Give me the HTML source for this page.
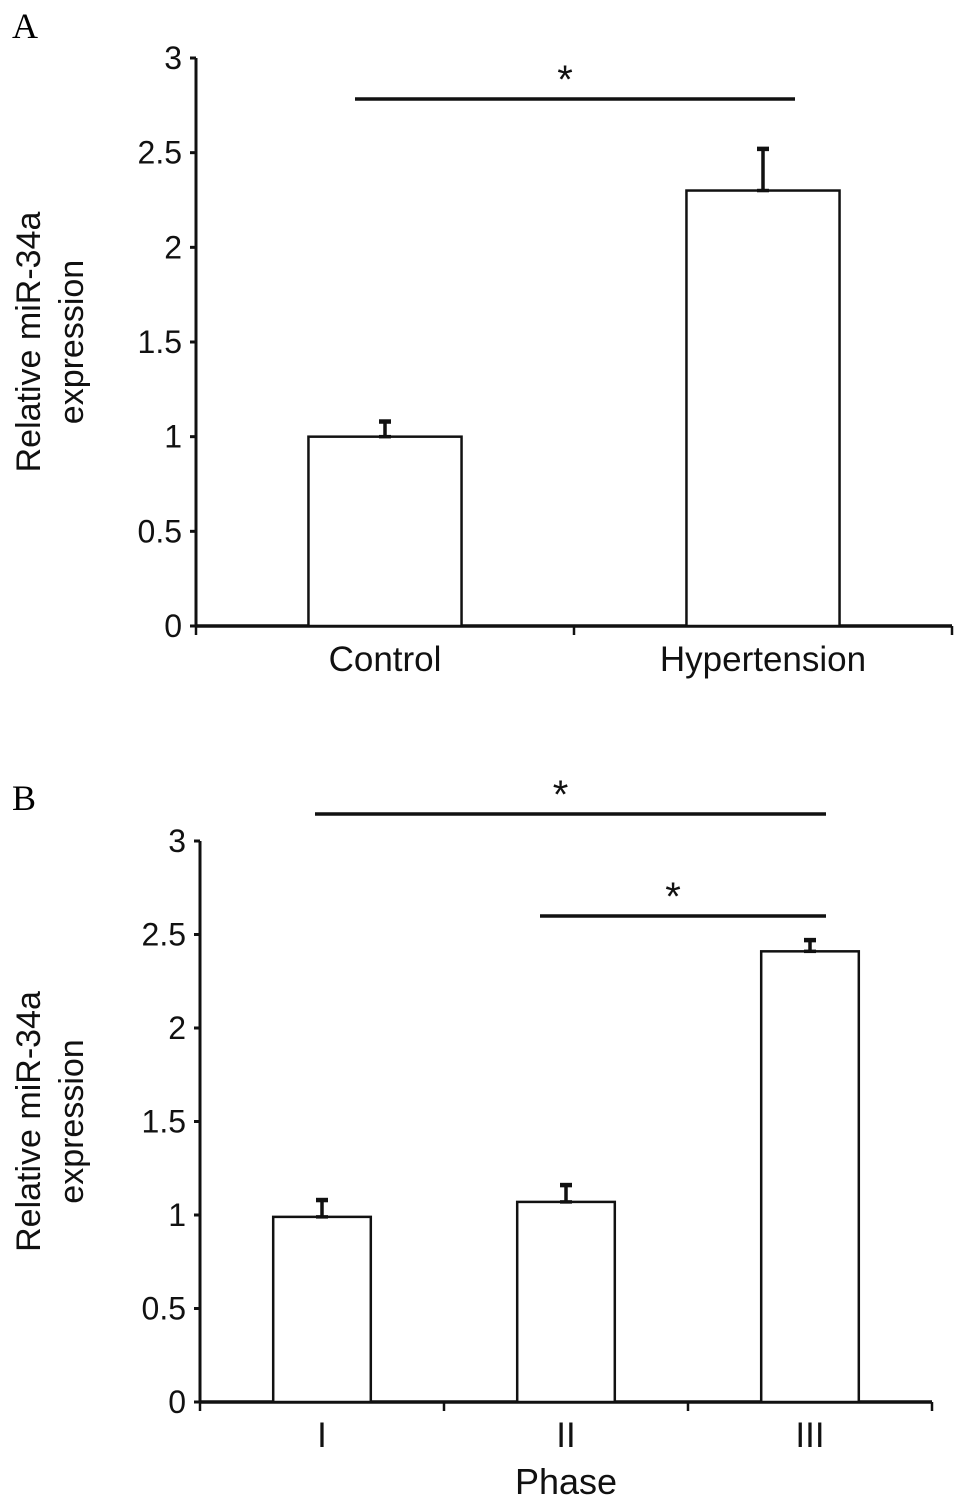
<!DOCTYPE html>
<html><head><meta charset="utf-8"><style>
html,body{margin:0;padding:0;background:#fff;}
svg{display:block;font-family:"Liberation Sans",Arial,sans-serif;}
</style></head><body>
<svg id="chart" width="969" height="1506" viewBox="0 0 969 1506">
<text x="12" y="38" font-family="Liberation Serif,serif" font-size="36">A</text>
<text x="12" y="810" font-family="Liberation Serif,serif" font-size="36">B</text>
<g id="pa"></g>
<g id="pb"></g>
</svg>
<script>
const catsA = ["Control","Hypertension"];
const valsA = [1.0, 2.3];
const errA = [0.08, 0.22];
const catsB = ["I","II","III"];
const valsB = [0.99, 1.07, 2.41];
const errB = [0.09, 0.09, 0.06];
const yTicks = [0, 0.5, 1, 1.5, 2, 2.5, 3];
const yTickLabels = ["0","0.5","1","1.5","2","2.5","3"];

const NS="http://www.w3.org/2000/svg";
function mk(p,t,a){const e=document.createElementNS(NS,t);for(const k in a)e.setAttribute(k,a[k]);p.appendChild(e);return e;}

function panel(g,cfg,cats,vals,errs,prefix){
  const y=v=>cfg.y0-(cfg.y0-cfg.y3)*v/3;
  const bw=(cfg.x1-cfg.x0)/cats.length;
  const xc=i=>cfg.x0+bw*(i+0.5);
  let ax=mk(g,'line',{x1:cfg.x0,y1:cfg.y3,x2:cfg.x0,y2:cfg.y0,stroke:'#111','stroke-width':3});
  
  
  yTicks.forEach((t,i)=>{
    const tk=mk(g,'line',{x1:cfg.x0-6,y1:y(t),x2:cfg.x0,y2:y(t),stroke:'#111','stroke-width':3});
    
    
    const tl=mk(g,'text',{x:cfg.x0-14,y:y(t)+11,'text-anchor':'end','font-size':32,fill:'#111'});
    tl.textContent=yTickLabels[i];
    
    
  });
  let xa=mk(g,'line',{x1:cfg.x0,y1:cfg.y0,x2:cfg.x1,y2:cfg.y0,stroke:'#111','stroke-width':3.5});
  
  
  for(let i=0;i<=cats.length;i++){
    const tk=mk(g,'line',{x1:cfg.x0+bw*i,y1:cfg.y0,x2:cfg.x0+bw*i,y2:cfg.y0+9,stroke:'#111','stroke-width':2.5});
    
    
  }
  cats.forEach((c,i)=>{
    const w=bw*cfg.frac;
    const r=mk(g,'rect',{x:xc(i)-w/2,y:y(vals[i]),width:w,height:cfg.y0-y(vals[i]),fill:'#fff',stroke:'#111','stroke-width':2.5});
    
    
    const eg=mk(g,'g',{stroke:'#111','stroke-width':3.5});
    
    
    mk(eg,'line',{x1:xc(i),y1:y(vals[i]),x2:xc(i),y2:y(vals[i]+errs[i])});
    mk(eg,'line',{x1:xc(i)-6,y1:y(vals[i]+errs[i]),x2:xc(i)+6,y2:y(vals[i]+errs[i]),'stroke-width':4.5});
    mk(eg,'line',{x1:xc(i)-6,y1:y(vals[i]),x2:xc(i)+6,y2:y(vals[i])});
    const lb=mk(g,'text',{x:xc(i),y:cfg.y0+45,'text-anchor':'middle','font-size':35,fill:'#111'});
    lb.textContent=c;
    
    
  });
  const cy=(cfg.y0+cfg.y3)/2;
  const t=mk(g,'text',{'text-anchor':'middle','font-size':34,fill:'#111',transform:`translate(${cfg.titleX},${cy}) rotate(-90)`});
  
  
  const t1=mk(t,'tspan',{x:0,dy:0});t1.textContent="Relative miR-34a";
  const t2=mk(t,'tspan',{x:0,dy:43});t2.textContent="expression";
  return {xc,y};
}
function sig(g,x1,x2,yy,name){
  const l=mk(g,'line',{x1:x1,y1:yy,x2:x2,y2:yy,stroke:'#111','stroke-width':3.5});
  
  
  const s=mk(g,'text',{x:(x1+x2)/2-10,y:yy-6,'text-anchor':'middle','font-size':40,fill:'#111'});
  s.textContent="*";
  
  
}
const pa=document.getElementById('pa'),pb=document.getElementById('pb');
const A=panel(pa,{x0:196,x1:952,y0:626,y3:58,frac:0.405,titleX:40},catsA,valsA,errA,'panel-a');
sig(pa,355,795,99,'panel-a-significance');
const B=panel(pb,{x0:200,x1:932,y0:1402,y3:841,frac:0.4,titleX:40},catsB,valsB,errB,'panel-b');
sig(pb,315,826,814,'panel-b-significance-i-iii');
sig(pb,540,826,916,'panel-b-significance-ii-iii');
const ph=mk(pb,'text',{x:566,y:1494,'text-anchor':'middle','font-size':36,fill:'#111'});
ph.textContent="Phase";


</script>
</body></html>
